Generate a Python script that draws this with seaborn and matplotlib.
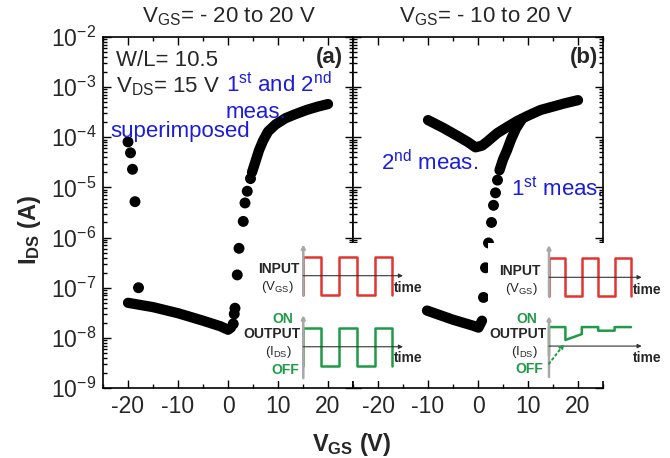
import numpy as np
import matplotlib
matplotlib.use('Agg')
import matplotlib.pyplot as plt
from matplotlib.ticker import MultipleLocator, LogLocator, NullFormatter
import seaborn as sns

# Set style
sns.set_style("ticks")
plt.rcParams['font.family'] = ['Liberation Sans', 'DejaVu Sans']
plt.rcParams['mathtext.fontset'] = 'custom'
plt.rcParams['mathtext.rm'] = 'Liberation Sans'
plt.rcParams['mathtext.bf'] = 'Liberation Sans:bold'
plt.rcParams['mathtext.it'] = 'Liberation Sans:italic'
plt.rcParams['axes.unicode_minus'] = False

# ============ DATA ============
# panel (a): V_GS = -20 to 20 V
a_start_v = [-20.0, -19.5, -19.1, -18.6, -17.9]
a_start_i = [8.1e-5, 4.9e-5, 2.3e-5, 5.2e-6, 1.0e-7]

a_off_v = [-20.0, -15.0, -10.0, -5.0, -1.5, 0.0, 0.6]
a_off_i = [5.0e-8, 4.1e-8, 3.1e-8, 2.2e-8, 1.7e-8, 1.45e-8, 1.6e-8]

a_rise_v = [1.05, 1.25, 1.4, 1.85, 2.2, 3.05, 3.4, 3.85, 4.5]
a_rise_i = [1.9e-8, 3.0e-8, 3.9e-8, 1.8e-7, 6.1e-7, 2.1e-6, 4.9e-6, 8.4e-6, 1.5e-5]

a_on_v = [4.8, 5.5, 6.2, 7.0, 8.0, 9.5, 11.5, 13.5, 15.7, 18.0, 20.0]
a_on_i = [2.0e-5, 3.3e-5, 5.5e-5, 8.5e-5, 1.3e-4, 1.8e-4, 2.4e-4, 2.9e-4, 3.5e-4, 4.1e-4, 4.6e-4]

# panel (b): V_GS = -10 to 20 V
b2_v = [-10.0, -7.0, -4.0, -2.0, -0.5, 0.8, 1.8, 3.8, 5.8, 7.8, 10.0, 12.5, 15.0, 17.5, 20.0]
b2_i = [2.2e-4, 1.55e-4, 1.05e-4, 8.0e-5, 6.3e-5, 6.8e-5, 8.1e-5, 1.2e-4, 1.6e-4, 2.1e-4,
        2.7e-4, 3.5e-4, 4.1e-4, 4.8e-4, 5.5e-4]

b1_off_v = [-10.2, -5.0, -1.0, 0.1, 0.8]
b1_off_i = [3.5e-8, 2.3e-8, 1.75e-8, 1.6e-8, 2.2e-8]

b1_rise_v = [1.1, 1.5, 2.1, 2.7, 3.1, 3.5, 3.9]
b1_rise_i = [6.4e-8, 2.5e-7, 7.8e-7, 2.0e-6, 4.4e-6, 7.8e-6, 1.4e-5]

b1_on_v = [4.3, 5.0, 5.8, 6.6, 7.6, 8.8]
b1_on_i = [2.2e-5, 3.6e-5, 5.5e-5, 9.0e-5, 1.5e-4, 2.3e-4]

# inset schematics (time in half periods, level in arbitrary units)
in_t = [0, 0, 1, 2, 3, 4, 5, 5]
in_lvl = [-1, 1, -1, 1, -1, 1, 1, -1]
out_a_t = [0, 0, 1, 2, 3, 4, 5, 5]
out_a_lvl = [-1, 1, -1, 1, -1, 1, 1, -1]
out_b_t = [0, 0, 1, 1, 2, 2, 3, 3, 4, 4, 5]
out_b_lvl = [-0.5, 1, 1, 0.32, 0.63, 1, 1, 0.81, 0.81, 1, 1]

BLUE = '#1c1cdc'
RED = '#e2352f'
GREEN = '#1f9a47'
GRAY = '#a8a8a8'

W, H = 670, 458


def fx(px):
    return px / W


def fy(py):
    return 1 - py / H


fig = plt.figure(figsize=(6.7, 4.58), dpi=100)
ax_a = fig.add_axes([fx(103), fy(388), 250 / W, 351 / H])
ax_b = fig.add_axes([fx(353), fy(388), 250 / W, 351 / H], sharey=ax_a)

ax_a.set_yscale('log')
ax_a.set_ylim(1e-9, 1e-2)

line_kw = dict(color='black', linewidth=7.4, solid_capstyle='round',
               solid_joinstyle='round', sort=False, estimator=None)
dot_kw = dict(color='black', s=62, linewidth=0, edgecolor='none')

# panel (a)
sns.lineplot(x=a_off_v, y=a_off_i, ax=ax_a, **line_kw)
sns.lineplot(x=a_on_v, y=a_on_i, ax=ax_a, **line_kw)
sns.scatterplot(x=a_start_v, y=a_start_i, ax=ax_a, **dot_kw)
sns.scatterplot(x=a_rise_v, y=a_rise_i, ax=ax_a, **dot_kw)

# panel (b)
sns.lineplot(x=b2_v, y=b2_i, ax=ax_b, **line_kw)
sns.lineplot(x=b1_off_v, y=b1_off_i, ax=ax_b, **line_kw)
sns.lineplot(x=b1_on_v, y=b1_on_i, ax=ax_b, **line_kw)
sns.scatterplot(x=b1_rise_v, y=b1_rise_i, ax=ax_b, **dot_kw)

for ax in (ax_a, ax_b):
    ax.set_xlim(-25, 25)
    ax.xaxis.set_major_locator(MultipleLocator(10))
    ax.xaxis.set_minor_locator(MultipleLocator(5))
    ax.yaxis.set_major_locator(LogLocator(base=10, numticks=20))
    ax.yaxis.set_minor_locator(LogLocator(base=10, subs=np.arange(2, 10), numticks=100))
    ax.yaxis.set_minor_formatter(NullFormatter())
    ax.tick_params(which='both', direction='in', top=True, right=True, width=1, color='black')
    ax.tick_params(which='major', length=6, labelsize=16.5, pad=5)
    ax.tick_params(which='minor', length=3)
    ax.set_xlabel('')
    ax.set_ylabel('')
    for s in ax.spines.values():
        s.set_linewidth(1.2)
        s.set_color('black')
ax_b.tick_params(labelleft=False)

ax_a.set_ylabel(r'I$_{\mathbf{DS}}$ (A)', fontsize=17, fontweight='bold')
ax_a.yaxis.set_label_coords(-0.24, 0.45)
fig.text(fx(352), fy(451), r'V$_{\mathbf{GS}}$ (V)', fontsize=17, fontweight='bold',
         ha='center', va='baseline')

# titles
fig.text(fx(229), fy(22), r'V$_{\mathregular{GS}}$= - 20 to 20 V', fontsize=16,
         ha='center', va='baseline')
fig.text(fx(486), fy(22), r'V$_{\mathregular{GS}}$= - 10 to 20 V', fontsize=16,
         ha='center', va='baseline')

# annotations panel (a)
fig.text(fx(116), fy(66), 'W/L= 10.5', fontsize=16, va='baseline')
fig.text(fx(116), fy(92), r'V$_{\mathregular{DS}}$= 15 V', fontsize=16, va='baseline')
fig.text(fx(343), fy(63), '(a)', fontsize=16, fontweight='bold', ha='right', va='baseline')
fig.text(fx(226), fy(92), r'1$^{\mathregular{st}}$ and 2$^{\mathregular{nd}}$', fontsize=16,
         color=BLUE, va='baseline')
fig.text(fx(226), fy(118), 'meas.', fontsize=16, color=BLUE, va='baseline')
fig.text(fx(110), fy(137), 'superimposed', fontsize=16, color=BLUE, va='baseline')

# annotations panel (b)
fig.text(fx(598), fy(63), '(b)', fontsize=16, fontweight='bold', ha='right', va='baseline')
fig.text(fx(381), fy(170), r'2$^{\mathregular{nd}}$ meas.', fontsize=16, color=BLUE, va='baseline')
fig.text(fx(511), fy(195), r'1$^{\mathregular{st}}$ meas.', fontsize=16, color=BLUE, va='baseline')


# ============ INSETS ============
def make_inset(left, right, top, bottom, x0, half, base):
    # x0: pixel of time axis origin, half: pixels per half period, base: pixel of input baseline
    iax = fig.add_axes([fx(left), fy(bottom), (right - left) / W, (bottom - top) / H])
    iax.set_facecolor('white')
    iax.set_xlim((left - x0) / half, (right - x0) / half)
    iax.set_ylim((base - bottom) / 19.0, (base - top) / 19.0)
    iax.set_xticks([])
    iax.set_yticks([])
    for s in iax.spines.values():
        s.set_visible(False)
    return iax


def draw_axes(iax, off, y_top, y_bot, t_end):
    iax.annotate('', xy=(0, off + y_top), xytext=(0, off + y_bot),
                 arrowprops=dict(arrowstyle='-|>', color=GRAY, lw=1.8, mutation_scale=5,
                                 shrinkA=0, shrinkB=0))
    iax.annotate('', xy=(t_end, off), xytext=(0, off),
                 arrowprops=dict(arrowstyle='-|>', color='#333333', lw=0.8, mutation_scale=6,
                                 shrinkA=0, shrinkB=0))


wave_kw = dict(linewidth=1.8, sort=False, estimator=None)
lab_kw = dict(fontsize=10, fontweight='bold', va='center')
sub_kw = dict(fontsize=9.5, va='center', ha='center')

# inset (a)
ins_a = make_inset(250, 420, 243, 381, 303.3, 17.8, 275.7)
off_a = -3.74
draw_axes(ins_a, 0, 1.65, -1.02, 5.6)
draw_axes(ins_a, off_a, 1.67, -1.65, 5.6)
sns.lineplot(x=in_t, y=in_lvl, ax=ins_a, color=RED, drawstyle='steps-post', **wave_kw)
sns.lineplot(x=out_a_t, y=[v + off_a for v in out_a_lvl], ax=ins_a, color=GREEN,
             drawstyle='steps-post', **wave_kw)
ins_a.text(-0.19, 0.34, 'INPUT', ha='right', **lab_kw)
ins_a.text(-1.45, -0.60, r'(V$_{\mathregular{GS}}$)', **sub_kw)
ins_a.text(5.1, -0.66, 'time', ha='left', **lab_kw)
ins_a.text(-0.56, off_a + 1.46, 'ON', ha='right', color=GREEN, **lab_kw)
ins_a.text(-0.15, off_a + 0.67, 'OUTPUT', ha='right', **lab_kw)
ins_a.text(-1.37, off_a - 0.30, r'(I$_{\mathregular{DS}}$)', **sub_kw)
ins_a.text(-0.22, off_a - 1.20, 'OFF', ha='right', color=GREEN, **lab_kw)
ins_a.text(5.1, off_a - 0.61, 'time', ha='left', **lab_kw)

# inset (b)
ins_b = make_inset(488, 670, 243, 381, 549.0, 16.4, 277.3)
off_b = -3.62
draw_axes(ins_b, 0, 1.7, -1.0, 5.65)
draw_axes(ins_b, off_b, 1.58, -1.62, 5.65)
sns.lineplot(x=in_t, y=in_lvl, ax=ins_b, color=RED, drawstyle='steps-post', **wave_kw)
sns.lineplot(x=out_b_t, y=[v + off_b for v in out_b_lvl], ax=ins_b, color=GREEN, **wave_kw)
ins_b.annotate('', xy=(0.93, off_b + 0.11), xytext=(0, off_b - 0.93),
               arrowprops=dict(arrowstyle='-|>', color=GREEN, lw=1.4, ls=':',
                               mutation_scale=6, shrinkA=0, shrinkB=0))
ins_b.text(-0.51, 0.33, 'INPUT', ha='right', **lab_kw)
ins_b.text(-1.71, -0.64, r'(V$_{\mathregular{GS}}$)', **sub_kw)
ins_b.text(5.14, -0.67, 'time', ha='left', **lab_kw)
ins_b.text(-0.75, off_b + 1.42, 'ON', ha='right', color=GREEN, **lab_kw)
ins_b.text(-0.18, off_b + 0.62, 'OUTPUT', ha='right', **lab_kw)
ins_b.text(-1.52, off_b - 0.30, r'(I$_{\mathregular{DS}}$)', **sub_kw)
ins_b.text(-0.38, off_b - 1.22, 'OFF', ha='right', color=GREEN, **lab_kw)
ins_b.text(5.14, off_b - 0.61, 'time', ha='left', **lab_kw)

fig.savefig('out.png', dpi=100)
plt.close(fig)
